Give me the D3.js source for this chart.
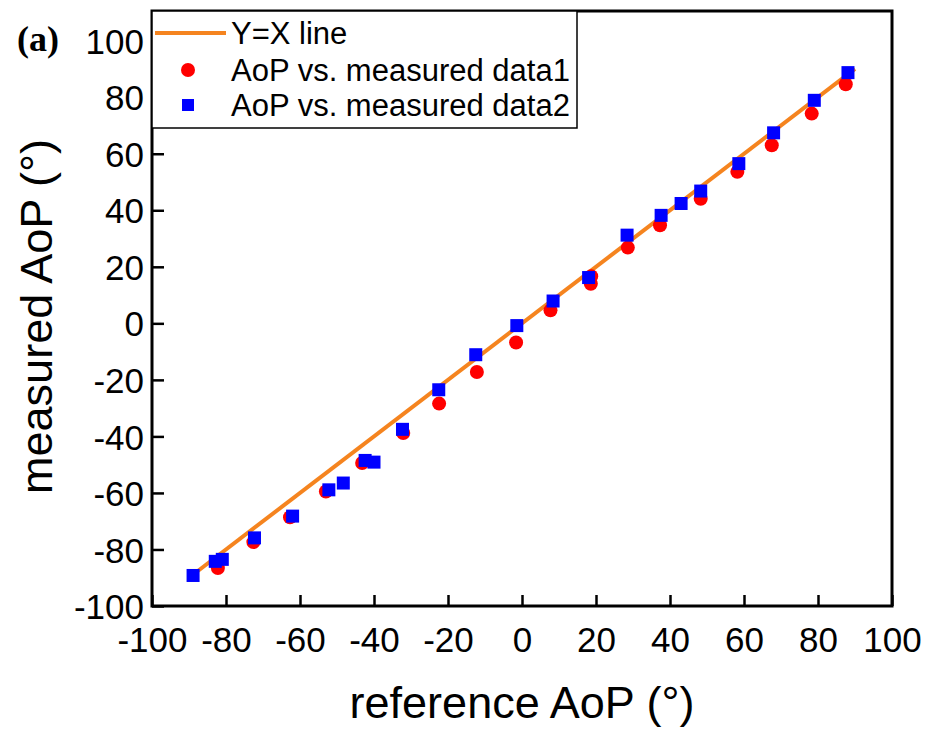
<!DOCTYPE html>
<html>
<head>
<meta charset="utf-8">
<script src="https://cdn.jsdelivr.net/npm/d3@7"></script>
<style>
  body { margin: 0; background: #fff; }
  text { font-family: "Liberation Sans", Arial, sans-serif; }
</style>
</head>
<body>
<div id="chart"></div>
<script>
// Y=X reference line
const lineX = [-90, 90];

// AoP vs. measured data1 (red circles)
const data1X = [-82.2, -72.6, -62.7, -53.0, -43.2, -32.1, -22.4, -12.2, -1.6, 7.7, 18.6, 18.7, 28.6, 37.3, 48.3, 58.2, 67.5, 78.3, 87.5];
const data1Y = [-86.6, -77.4, -68.6, -59.5, -49.4, -38.8, -28.4, -17.2, -6.8, 4.6, 14.0, 16.7, 26.8, 34.7, 44.1, 53.6, 63.0, 74.2, 84.6];

// AoP vs. measured data2 (blue squares)
const data2X = [-88.9, -82.9, -81.0, -72.3, -62.0, -52.2, -48.3, -42.4, -40.0, -32.3, -22.5, -12.5, -1.4, 8.4, 18.0, 28.4, 37.6, 43.0, 48.3, 58.6, 68.0, 79.0, 88.1];
const data2Y = [-89.2, -84.2, -83.5, -75.9, -68.2, -58.9, -56.5, -48.5, -49.1, -37.5, -23.5, -11.1, -0.8, 7.9, 16.2, 31.2, 38.2, 42.4, 46.8, 56.5, 67.4, 78.9, 88.7];

const xTicks = [-100, -80, -60, -40, -20, 0, 20, 40, 60, 80, 100];
const yTicks = [-100, -80, -60, -40, -20, 0, 20, 40, 60, 80, 100];

const legendLabels = ["Y=X line", "AoP vs. measured data1", "AoP vs. measured data2"];

const width = 928, height = 731;
const plotL = 152, plotR = 892, plotT = 11, plotB = 606;

const svg = d3.select("#chart").append("svg")
    .attr("width", width)
    .attr("height", height);

const x = d3.scaleLinear().domain([-100, 100]).range([plotL, plotR]);
const y = d3.scaleLinear().domain([-100, 110.5]).range([plotB, plotT]);

const orange = "#f5841f", red = "#ff0000", blue = "#0000ff";

// Y=X line
svg.append("path")
    .datum(lineX)
    .attr("d", d3.line().x(d => x(d)).y(d => y(d)))
    .attr("stroke", orange)
    .attr("stroke-width", 4)
    .attr("fill", "none");

// data1 circles
svg.selectAll(".c1")
    .data(data1X.map((v, i) => [v, data1Y[i]]))
    .join("circle")
    .attr("cx", d => x(d[0]))
    .attr("cy", d => y(d[1]))
    .attr("r", 7)
    .attr("fill", red);

// data2 squares
const sq = 13;
svg.selectAll(".s2")
    .data(data2X.map((v, i) => [v, data2Y[i]]))
    .join("rect")
    .attr("x", d => x(d[0]) - sq / 2)
    .attr("y", d => y(d[1]) - sq / 2)
    .attr("width", sq)
    .attr("height", sq)
    .attr("fill", blue);

// axes (ticks inward), plain hyphen for negatives
const fmt = d => String(d);
const xAxis = svg.append("g")
    .attr("transform", `translate(0,${plotB})`)
    .call(d3.axisBottom(x).tickValues(xTicks).tickSizeInner(-11).tickSizeOuter(0).tickPadding(21).tickFormat(fmt));
const yAxis = svg.append("g")
    .attr("transform", `translate(${plotL},0)`)
    .call(d3.axisLeft(y).tickValues(yTicks).tickSizeInner(-12).tickSizeOuter(0).tickPadding(8).tickFormat(fmt));

[xAxis, yAxis].forEach(g => {
    g.select(".domain").remove();
    g.selectAll(".tick line").attr("stroke", "#000").attr("stroke-width", 2.5);
    g.selectAll(".tick text")
        .attr("fill", "#000")
        .style("font-size", "35px")
        .style("font-family", "'Liberation Sans', Arial, sans-serif");
});
xAxis.selectAll(".tick text").attr("dy", "0.71em");
yAxis.selectAll(".tick text").attr("dy", "0.36em");

// frame
svg.append("rect")
    .attr("x", plotL)
    .attr("y", plotT)
    .attr("width", plotR - plotL)
    .attr("height", plotB - plotT)
    .attr("fill", "none")
    .attr("stroke", "#000")
    .attr("stroke-width", 3);

// axis titles
svg.append("text")
    .attr("x", (plotL + plotR) / 2)
    .attr("y", 718)
    .attr("text-anchor", "middle")
    .style("font-size", "45px")
    .text("reference AoP (°)");

svg.append("text")
    .attr("transform", `translate(52,${(plotT + plotB) / 2 + 8}) rotate(-90)`)
    .attr("text-anchor", "middle")
    .style("font-size", "45px")
    .text("measured AoP (°)");

// panel label
svg.append("text")
    .attr("x", 17)
    .attr("y", 51)
    .style("font-family", "'Liberation Serif', 'Times New Roman', serif")
    .style("font-weight", "bold")
    .style("font-size", "36px")
    .text("(a)");

// legend
const legend = svg.append("g");
legend.append("rect")
    .attr("x", plotL)
    .attr("y", plotT)
    .attr("width", 425)
    .attr("height", 117)
    .attr("fill", "#fff")
    .attr("stroke", "#000")
    .attr("stroke-width", 1.5);

const rowY = [33, 70, 105];
legend.append("line")
    .attr("x1", 155).attr("x2", 226)
    .attr("y1", rowY[0]).attr("y2", rowY[0])
    .attr("stroke", orange)
    .attr("stroke-width", 4);
legend.append("circle")
    .attr("cx", 188).attr("cy", rowY[1])
    .attr("r", 7)
    .attr("fill", red);
legend.append("rect")
    .attr("x", 188 - 6).attr("y", rowY[2] - 6)
    .attr("width", 12).attr("height", 12)
    .attr("fill", blue);

legend.selectAll(".lt")
    .data(legendLabels)
    .join("text")
    .attr("x", 231)
    .attr("y", (d, i) => rowY[i])
    .attr("dy", "0.36em")
    .style("font-size", "31px")
    .text(d => d);
</script>
</body>
</html>
